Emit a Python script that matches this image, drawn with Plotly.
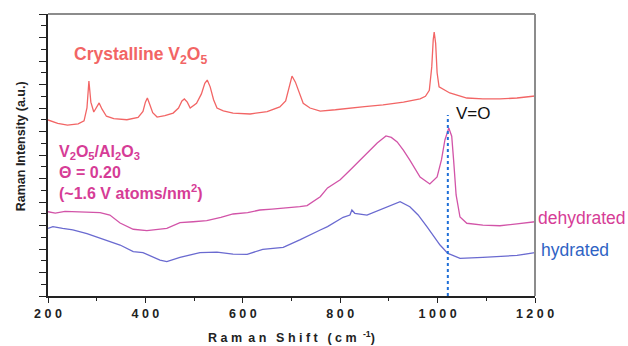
import plotly.graph_objects as go

# ---- data ----
cryst_x = [200, 220, 240, 262, 274, 280, 284, 288, 294, 300, 305, 311, 320, 335, 362, 385, 395, 400, 404, 409,
           415, 424, 440, 457, 468, 475, 480, 486, 492, 505, 515, 522, 527, 533, 540, 547, 560, 580, 615, 650,
           676, 688, 695, 701, 708, 717, 724, 738, 759, 790, 820, 850, 888, 930, 964, 975, 983, 988, 991, 993,
           996, 999, 1003, 1025, 1060, 1093, 1128, 1163, 1200]
cryst_y = [14.98, 14.7, 14.55, 14.65, 14.9, 16.0, 18.3, 16.5, 15.66, 16.1, 16.43, 15.9, 15.3, 15.1, 15.0, 15.2,
           15.7, 16.5, 16.85, 16.3, 15.6, 15.23, 15.35, 15.57, 16.0, 16.6, 16.77, 16.5, 16.0, 16.4, 17.2, 18.1,
           18.38, 17.8, 16.7, 16.0, 15.75, 15.57, 15.49, 15.7, 16.09, 16.6, 17.8, 18.72, 18.2, 17.11, 16.4, 16.0,
           15.74, 15.85, 16.0, 16.12, 16.26, 16.5, 16.77, 17.0, 17.5, 19.5, 21.8, 22.47, 21.5, 19.0, 17.8, 17.28,
           16.85, 16.77, 16.77, 16.85, 17.02]

dehyd_x = [200, 215, 235, 266, 285, 307, 327, 348, 375, 403, 444, 471, 498, 526, 555, 580, 610, 635, 660, 683,
           717, 732, 759, 774, 800, 820, 841, 855, 876, 894, 905, 917, 930, 943, 964, 984, 999, 1008, 1015, 1023,
           1029, 1033, 1038, 1046, 1060, 1093, 1128, 1163, 1200]
dehyd_y = [7.17, 7.05, 7.2, 7.17, 7.1, 7.09, 6.89, 6.21, 5.68, 5.56, 5.76, 6.24, 6.32, 6.41, 6.7, 6.98, 7.1, 7.32,
           7.4, 7.46, 7.6, 7.69, 8.45, 9.2, 9.9, 10.7, 11.57, 12.17, 13.02, 13.62, 13.5, 13.11, 12.4, 11.57, 10.13,
           9.53, 10.13, 11.6, 13.28, 14.3, 13.6, 11.5, 8.6, 6.72, 6.19, 6.04, 5.98, 6.13, 6.32]

hyd_x = [200, 210, 230, 251, 280, 307, 348, 375, 395, 430, 444, 471, 512, 547, 580, 609, 641, 683, 717, 759, 774,
         806, 820, 824, 830, 855, 888, 923, 943, 960, 978, 1005, 1021, 1046, 1093, 1163, 1200]
hyd_y = [5.76, 5.9, 5.75, 5.62, 5.3, 4.91, 4.34, 3.77, 3.69, 3.06, 2.92, 3.29, 3.69, 3.74, 3.57, 3.55, 3.97, 4.14,
         4.77, 5.62, 5.9, 6.7, 6.89, 7.32, 7.04, 6.89, 7.46, 8.03, 7.6, 6.9, 5.9, 4.34, 3.63, 3.21, 3.29, 3.45, 3.69]

vo_x = [1021, 1021]
vo_y = [0, 15.4]

x_range = [200, 1200]
y_range = [0, 24]
x_ticks = [200, 400, 600, 800, 1000, 1200]
x_ticktext = ["<b>2 0 0</b>", "<b>4 0 0</b>", "<b>6 0 0</b>", "<b>8 0 0</b>",
              "<b>1 0 0 0</b>", "<b>1 2 0 0</b>"]

RED = "#f26565"
PINK = "#d254a8"
BLUE = "#6a6ad0"
FONT = "Liberation Sans, Arial, sans-serif"

fig = go.Figure()
fig.add_trace(go.Scatter(x=cryst_x, y=cryst_y, mode="lines", line=dict(color=RED, width=1.3), showlegend=False))
fig.add_trace(go.Scatter(x=dehyd_x, y=dehyd_y, mode="lines", line=dict(color=PINK, width=1.3), showlegend=False))
fig.add_trace(go.Scatter(x=hyd_x, y=hyd_y, mode="lines", line=dict(color=BLUE, width=1.3), showlegend=False))
fig.add_trace(go.Scatter(x=vo_x, y=vo_y, mode="lines", line=dict(color="#1f6fd8", width=2, dash="dot"),
                         showlegend=False))

# gray top/right frame
fig.add_shape(type="line", xref="paper", yref="paper", x0=0, y0=1, x1=1, y1=1,
              line=dict(color="#8c8c8c", width=2))
fig.add_shape(type="line", xref="paper", yref="paper", x0=1, y0=0, x1=1, y1=1,
              line=dict(color="#8c8c8c", width=2))

fig.update_layout(
    width=628, height=346,
    margin=dict(l=48, r=93, t=14, b=50),
    plot_bgcolor="white", paper_bgcolor="white",
    font=dict(family=FONT, color="#222"),
    xaxis=dict(range=x_range, tickvals=x_ticks, ticktext=x_ticktext, automargin=False,
               ticks="outside", ticklen=5, tickwidth=1.3, tickcolor="#222",
               minor=dict(dtick=100, ticks="outside", ticklen=3, tickwidth=1.2, tickcolor="#222"),
               showline=True, linecolor="#222", linewidth=1.5, showgrid=False, zeroline=False,
               tickfont=dict(size=12.5, color="#222", family=FONT)),
    yaxis=dict(range=y_range, dtick=2, showticklabels=False, automargin=False,
               ticks="outside", ticklen=7, tickwidth=1.3, tickcolor="#222",
               minor=dict(dtick=1, ticks="outside", ticklen=5, tickwidth=1.2, tickcolor="#222"),
               showline=True, linecolor="#222", linewidth=1.5, showgrid=False, zeroline=False),
)

# axis titles
fig.add_annotation(x=0.5, y=-0.145, xref="paper", yref="paper", xanchor="center", yanchor="middle",
                   showarrow=False,
                   text="<b>R a m\u2002a n\u2002 S h i f t\u2002 ( c m\u2002<sup>-1</sup>)</b>",
                   font=dict(size=12.5, color="#222", family=FONT))
fig.add_annotation(x=-0.056, y=0.53, xref="paper", yref="paper", xanchor="center", yanchor="middle",
                   showarrow=False, textangle=-90,
                   text="<b>Raman Intensity (a.u.)</b>", font=dict(size=12.5, color="#222", family=FONT))

fig.add_annotation(x=249, y=20.5, xref="x", yref="y", xanchor="left", yanchor="middle", showarrow=False,
                   text="<b>Crystalline V<sub>2</sub>O<sub>5</sub></b>", font=dict(size=17.5, color=RED, family=FONT))
fig.add_annotation(x=218, y=10.55, xref="x", yref="y", xanchor="left", yanchor="middle", showarrow=False,
                   align="left",
                   text="<b>V<sub>2</sub>O<sub>5</sub>/Al<sub>2</sub>O<sub>3</sub><br>\u0398 = 0.20<br>(~1.6 V atoms/nm<sup>2</sup>)</b>",
                   font=dict(size=16, color="#d63c96", family=FONT))
fig.add_annotation(x=1034, y=15.57, xref="x", yref="y", xanchor="left", yanchor="middle", showarrow=False,
                   text="V=O", font=dict(size=17, color="#111", family=FONT))
fig.add_annotation(x=1.002, y=6.64, xref="paper", yref="y", xanchor="left", yanchor="middle", showarrow=False,
                   text="dehydrated", font=dict(size=17.5, color="#d63c96", family=FONT))
fig.add_annotation(x=1.008, y=3.9, xref="paper", yref="y", xanchor="left", yanchor="middle", showarrow=False,
                   text="hydrated", font=dict(size=17.5, color="#2f63c4", family=FONT))

fig.write_html("out.html")
